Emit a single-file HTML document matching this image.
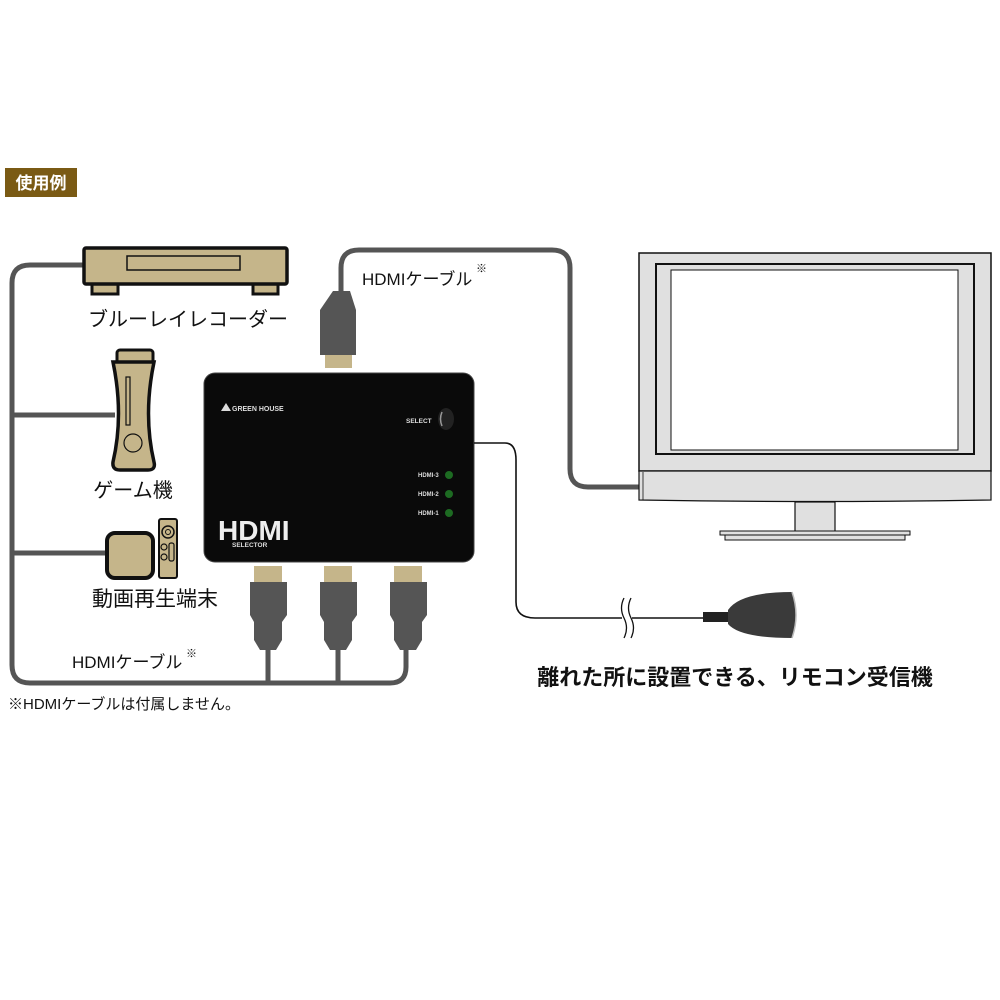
<!DOCTYPE html>
<html><head><meta charset="utf-8"><style>
html,body{margin:0;padding:0;background:#fff;}
svg{display:block;}
text{font-family:"Liberation Sans","Noto Sans CJK JP",sans-serif;}
</style></head><body>
<svg width="1000" height="1000" viewBox="0 0 1000 1000" xmlns="http://www.w3.org/2000/svg">
<rect x="5" y="168" width="72" height="29" fill="#7a5a14"/>
<text x="41" y="189" font-size="17" font-weight="bold" fill="#fff" text-anchor="middle">使用例</text>

<!-- left cables -->
<g fill="none" stroke="#555" stroke-width="5">
<path d="M90 265 H30 Q12 265 12 283 V665 Q12 683 30 683 H390 Q406 683 406 667 V640"/>
<path d="M12 415 H115"/>
<path d="M12 553 H110"/>
<path d="M268 640 V683"/>
<path d="M338 640 V683"/>
<path d="M341 295 V268 Q341 250 359 250 H552 Q570 250 570 268 V469 Q570 487 588 487 H640"/>
</g>

<!-- recorder -->
<rect x="92" y="280" width="26" height="14" fill="#c5b58a" stroke="#111" stroke-width="3"/>
<rect x="253" y="280" width="25" height="14" fill="#c5b58a" stroke="#111" stroke-width="3"/>
<rect x="84" y="248" width="203" height="36" rx="2" fill="#c5b58a" stroke="#111" stroke-width="3.5"/>
<rect x="127" y="256" width="113" height="14" fill="#c5b58a" stroke="#111" stroke-width="1.5"/>
<text x="188" y="326" font-size="20" text-anchor="middle" fill="#111">ブルーレイレコーダー</text>

<!-- game console -->
<rect x="117" y="350" width="36" height="14" rx="3" fill="#c5b58a" stroke="#111" stroke-width="3"/>
<path d="M113 362 Q124 415 113 462 Q112 470 120 470 H148 Q156 470 154 462 Q143 415 154 362 Z" fill="#c5b58a" stroke="#111" stroke-width="3.5"/>
<rect x="126" y="377" width="4" height="48" fill="#c5b58a" stroke="#111" stroke-width="1.2"/>
<circle cx="133" cy="443" r="9" fill="none" stroke="#111" stroke-width="1.2"/>
<text x="133" y="497" font-size="20" text-anchor="middle" fill="#111">ゲーム機</text>

<!-- media box -->
<rect x="107" y="533" width="46" height="45" rx="8" fill="#c5b58a" stroke="#111" stroke-width="4"/>
<rect x="159" y="519" width="18" height="59" rx="2" fill="#c5b58a" stroke="#111" stroke-width="2"/>
<circle cx="168" cy="532" r="6" fill="none" stroke="#111" stroke-width="1.5"/>
<circle cx="168" cy="532" r="2.5" fill="none" stroke="#111" stroke-width="1"/>
<circle cx="164" cy="547" r="3" fill="none" stroke="#111" stroke-width="1.2"/>
<circle cx="164" cy="557" r="3" fill="none" stroke="#111" stroke-width="1.2"/>
<rect x="169" y="543" width="5" height="18" rx="2" fill="none" stroke="#111" stroke-width="1.2"/>
<text x="155" y="606" font-size="21" text-anchor="middle" fill="#111">動画再生端末</text>

<!-- top plug -->
<path d="M333 291 H350 L356 310 V355 H320 V310 Z" fill="#555"/>
<rect x="325" y="355" width="27" height="13" fill="#c5b58a"/>
<text x="362" y="285" font-size="17" fill="#111">HDMIケーブル</text>
<text x="476" y="272" font-size="11" fill="#111">※</text>

<!-- selector -->
<rect x="204" y="373" width="270" height="189" rx="11" fill="#0a0a0a"/>
<rect x="204" y="373" width="270" height="189" rx="11" fill="none" stroke="#444" stroke-width="1"/>
<path d="M221 411 L226 403 L231 411 Z" fill="#ddd"/>
<text x="232" y="411" font-size="7" fill="#ddd" font-weight="bold">GREEN HOUSE</text>
<text x="406" y="423" font-size="6.5" fill="#ddd" font-weight="bold">SELECT</text>
<ellipse cx="446" cy="419" rx="8" ry="11" fill="#222"/>
<path d="M442 412 Q439 419 442 426" stroke="#999" stroke-width="1.5" fill="none"/>
<text x="418" y="477" font-size="6" fill="#ddd" font-weight="bold">HDMI-3</text>
<text x="418" y="496" font-size="6" fill="#ddd" font-weight="bold">HDMI-2</text>
<text x="418" y="515" font-size="6" fill="#ddd" font-weight="bold">HDMI-1</text>
<circle cx="449" cy="475" r="4" fill="#1d6b22"/>
<circle cx="449" cy="494" r="4" fill="#1d6b22"/>
<circle cx="449" cy="513" r="4" fill="#1d6b22"/>
<text x="218" y="540" font-size="28" font-weight="bold" fill="#eee">HDMI</text>
<text x="232" y="547" font-size="6.5" fill="#ddd" font-weight="bold">SELECTOR</text>

<!-- bottom plugs -->
<g>
<rect x="254" y="566" width="28" height="16" fill="#c5b58a"/>
<path d="M250 582 H287 V615 L282 622 V640 L276 650 H260 L254 640 V622 L250 615 Z" fill="#555"/>
<rect x="324" y="566" width="28" height="16" fill="#c5b58a"/>
<path d="M320 582 H357 V615 L352 622 V640 L346 650 H330 L324 640 V622 L320 615 Z" fill="#555"/>
<rect x="394" y="566" width="28" height="16" fill="#c5b58a"/>
<path d="M390 582 H427 V615 L422 622 V640 L416 650 H400 L394 640 V622 L390 615 Z" fill="#555"/>
</g>
<text x="72" y="668" font-size="17" fill="#111">HDMIケーブル</text>
<text x="186" y="657" font-size="11" fill="#111">※</text>
<text x="8" y="709" font-size="15" fill="#111">※HDMIケーブルは付属しません。</text>

<!-- thin cable -->
<path d="M474 443 H505 Q516 443 516 460 V602 Q516 618 535 618 H705" fill="none" stroke="#111" stroke-width="1.6"/>
<rect x="622" y="598" width="10" height="40" fill="#fff"/>
<path d="M624 598 Q619 608 624 618 Q629 628 624 638 M631 598 Q626 608 631 618 Q636 628 631 638" fill="none" stroke="#111" stroke-width="1.3"/>
<rect x="703" y="612" width="26" height="10" fill="#222"/>
<path d="M728 610 Q740 592 792 592 Q800 615 792 638 Q740 638 728 624 Z" fill="#3a3a3a"/>
<path d="M792 592 Q800 615 792 638" fill="none" stroke="#bbb" stroke-width="1.5"/>

<!-- TV -->
<rect x="639" y="253" width="352" height="218" fill="#e0e0e0" stroke="#111" stroke-width="1.5"/>
<rect x="656" y="264" width="318" height="190" fill="#e0e0e0" stroke="#111" stroke-width="2"/>
<rect x="671" y="270" width="287" height="180" fill="#fff" stroke="#111" stroke-width="1"/>
<path d="M639 471 H991 V500 Q815 503 639 500 Z" fill="#e0e0e0" stroke="#111" stroke-width="1.2"/>
<line x1="643" y1="472" x2="643" y2="500" stroke="#111" stroke-width="0.8"/>
<rect x="795" y="502" width="40" height="30" fill="#e0e0e0" stroke="#111" stroke-width="1.2"/>
<rect x="720" y="531" width="190" height="4" fill="#e0e0e0" stroke="#111" stroke-width="1"/>
<rect x="725" y="535" width="180" height="5" fill="#e0e0e0" stroke="#111" stroke-width="1"/>

<text x="735" y="685" font-size="22" font-weight="bold" text-anchor="middle" fill="#111">離れた所に設置できる、リモコン受信機</text>
</svg>
</body></html>
